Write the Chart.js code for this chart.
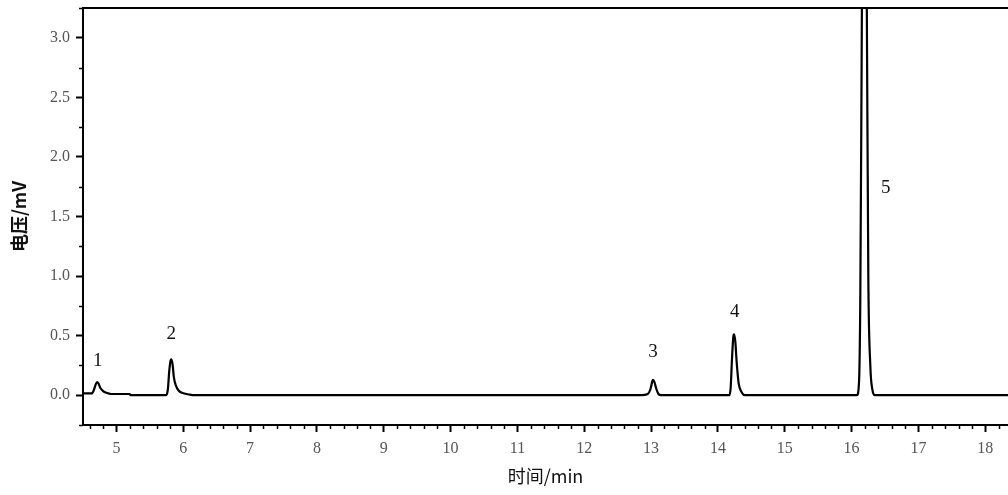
<!DOCTYPE html>
<html>
<head>
<meta charset="utf-8">
<script src="https://cdn.jsdelivr.net/npm/chart.js@4.4.0/dist/chart.umd.min.js"></script>
<style>
  html, body { margin: 0; padding: 0; background: #fff; }
  #wrap { width: 1008px; height: 495px; }
</style>
</head>
<body>
<div id="wrap"><canvas id="myChart"></canvas></div>
<script>
// retention time (min) and detector signal (mV)
const times = [
  4.5, 4.63, 4.66, 4.69, 4.71, 4.73, 4.76, 4.80, 4.85, 4.92, 5.2, 5.21,
  5.74, 5.77, 5.79, 5.81, 5.82, 5.84, 5.86, 5.89, 5.93, 5.98, 6.1, 6.15,
  12.85, 12.95, 12.99, 13.02, 13.03, 13.05, 13.08, 13.11, 13.15,
  14.17, 14.19, 14.21, 14.23, 14.24, 14.26, 14.28, 14.31, 14.35, 14.4,
  16.08, 16.11, 16.13, 16.15, 16.17, 16.19, 16.21, 16.23, 16.25, 16.28, 16.31, 16.35,
  18.4
]
const volts = [
  0.015, 0.015, 0.04, 0.09, 0.11, 0.10, 0.06, 0.035, 0.02, 0.01, 0.01, 0.0,
  0.0, 0.05, 0.2, 0.29, 0.30, 0.26, 0.15, 0.08, 0.04, 0.02, 0.005, 0.0,
  0.0, 0.01, 0.05, 0.12, 0.13, 0.11, 0.05, 0.01, 0.0,
  0.0, 0.06, 0.3, 0.49, 0.51, 0.45, 0.28, 0.1, 0.03, 0.0,
  0.0, 0.1, 0.8, 2.8, 5.0, 6.0, 5.0, 3.0, 1.0, 0.25, 0.05, 0.0,
  0.0
]

// peak numbers and where they sit
const peakNames = ['1', '2', '3', '4', '5']
const peakX = [4.72, 5.82, 13.03, 14.25, 16.51]
const peakY = [0.29, 0.51, 0.36, 0.70, 1.74]

// axis ticks
const xTicks = [5, 6, 7, 8, 9, 10, 11, 12, 13, 14, 15, 16, 17, 18]
const yTicks = [0, 0.5, 1.0, 1.5, 2.0, 2.5, 3.0]

const xMin = 4.5, xMax = 18.34
const yMin = -0.25, yMax = 3.25

const ctx = document.getElementById('myChart')

// minor ticks, axis frame top, peak numbers
const extras = {
  id: 'extras',
  afterDraw(chart) {
    const c = chart.ctx
    const x = chart.scales.x, y = chart.scales.y
    const area = chart.chartArea
    c.save()
    c.strokeStyle = '#000'
    c.lineWidth = 1.5
    c.beginPath()
    for (let i = 0; i * 0.2 + 4.6 <= xMax; i++) {
      const v = 4.6 + i * 0.2
      if (Math.abs(v - Math.round(v)) < 0.01) continue
      const px = Math.round(x.getPixelForValue(v)) + 0.5
      c.moveTo(px, area.bottom)
      c.lineTo(px, area.bottom + 4)
    }
    for (let v = -0.25; v <= yMax; v += 0.5) {
      const py = Math.round(y.getPixelForValue(v)) + 0.5
      c.moveTo(area.left, py)
      c.lineTo(area.left - 4, py)
    }
    c.stroke()
    c.lineWidth = 2
    c.beginPath()
    c.moveTo(area.left, area.top)
    c.lineTo(area.right, area.top)
    c.stroke()

    c.fillStyle = '#111'
    c.font = '19px "Liberation Serif", serif'
    c.textAlign = 'center'
    c.textBaseline = 'middle'
    peakNames.forEach((n, i) => {
      c.fillText(n, x.getPixelForValue(peakX[i]), y.getPixelForValue(peakY[i]))
    })
    c.restore()
  }
}

new Chart(ctx, {
  type: 'line',
  data: {
    datasets: [{
      data: times.map((t, i) => ({ x: t, y: volts[i] })),
      borderColor: '#000',
      borderWidth: 2.2,
      pointRadius: 0,
      cubicInterpolationMode: 'monotone',
      fill: false
    }]
  },
  options: {
    responsive: true,
    maintainAspectRatio: false,
    animation: false,
    layout: { padding: { top: 8, right: 0, left: 0, bottom: 0 } },
    plugins: {
      legend: { display: false },
      tooltip: { enabled: false }
    },
    scales: {
      x: {
        type: 'linear',
        min: xMin,
        max: xMax,
        afterBuildTicks: s => { s.ticks = xTicks.map(v => ({ value: v })) },
        afterFit: s => { s.height = 70; s.paddingLeft = 0; s.paddingRight = 0 },
        border: { display: true, color: '#000', width: 2 },
        grid: { drawOnChartArea: false, tickLength: 7, tickColor: '#000', tickWidth: 2 },
        ticks: {
          autoSkip: false,
          maxRotation: 0,
          color: '#555',
          padding: 7,
          font: { family: '"Liberation Serif", serif', size: 16 }
        },
        title: {
          display: true,
          text: '时间/min',
          color: '#111',
          padding: { top: 0, bottom: 8 },
          font: { family: '"Noto Sans CJK SC", sans-serif', size: 18 }
        }
      },
      y: {
        min: yMin,
        max: yMax,
        afterBuildTicks: s => { s.ticks = yTicks.map(v => ({ value: v })) },
        afterFit: s => { s.width = 83; s.paddingTop = 0; s.paddingBottom = 0 },
        border: { display: true, color: '#000', width: 2 },
        grid: { drawOnChartArea: false, tickLength: 7, tickColor: '#000', tickWidth: 2 },
        ticks: {
          color: '#555',
          padding: 6,
          callback: v => v.toFixed(1),
          font: { family: '"Liberation Serif", serif', size: 16 }
        },
        title: {
          display: true,
          text: '电压/mV',
          color: '#111',
          padding: { top: 8, bottom: 6 },
          font: { family: '"Noto Sans CJK SC", sans-serif', size: 18, weight: 'bold' }
        }
      }
    }
  },
  plugins: [extras]
})
</script>
</body>
</html>
